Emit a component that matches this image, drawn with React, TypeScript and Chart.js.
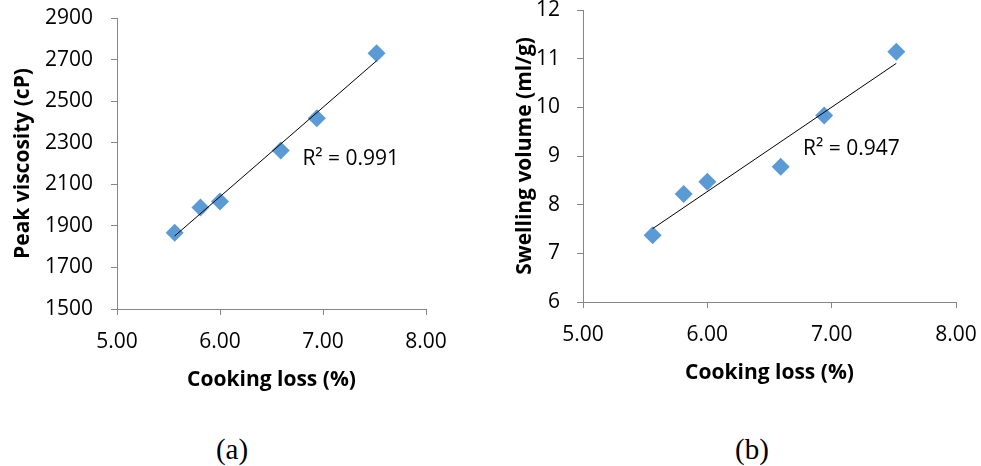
import React, { useEffect, useRef } from "react";
import { Chart, registerables } from "chart.js";

Chart.register(...registerables);

// ---- data ----
const cookingLoss = [5.56, 5.81, 6.0, 6.59, 6.94, 7.52];
const peakViscosity = [1867, 1988, 2017, 2262, 2418, 2731];
const swellingVolume = [7.37, 8.22, 8.47, 8.78, 9.83, 11.14];

const xMin = 5;
const xMax = 8;
const xStep = 1;
const peakMin = 1500;
const peakMax = 2900;
const peakStep = 200;
const swellMin = 6;
const swellMax = 12;
const swellStep = 1;

const xTitle = "Cooking loss (%)";
const peakTitle = "Peak viscosity (cP)";
const swellTitle = "Swelling volume (ml/g)";
const peakR2 = "R² = 0.991";
const swellR2 = "R² = 0.947";
// anchor of R² text in data coordinates [x, y]
const peakR2At = [6.8, 2220];
const swellR2At = [6.77, 9.14];

const FONT = "'Open Sans', 'Liberation Sans', sans-serif";
const AXIS_GREY = "#868686";
const MARKER_BLUE = "#5B9BD5";

function linearFit(xs: number[], ys: number[]) {
  const n = xs.length;
  const mx = xs.reduce((a, b) => a + b, 0) / n;
  const my = ys.reduce((a, b) => a + b, 0) / n;
  let sxy = 0;
  let sxx = 0;
  for (let i = 0; i < n; i++) {
    sxy += (xs[i] - mx) * (ys[i] - my);
    sxx += (xs[i] - mx) * (xs[i] - mx);
  }
  const slope = sxy / sxx;
  return { slope, intercept: my - slope * mx };
}

interface PanelSpec {
  ys: number[];
  yMin: number;
  yMax: number;
  yStep: number;
  yTitle: string;
  r2: string;
  r2At: number[];
  yAxisWidth: number;
  xAxisHeight: number;
  padTop: number;
  padRight: number;
  yTitlePad: number;
  xTitlePad: number;
  yTickPad: number;
  xTickPad: number;
}

function buildConfig(spec: PanelSpec): any {
  const { slope, intercept } = linearFit(cookingLoss, spec.ys);
  const lo = Math.min(...cookingLoss);
  const hi = Math.max(...cookingLoss);
  const trend = [
    { x: lo, y: intercept + slope * lo },
    { x: hi, y: intercept + slope * hi },
  ];
  const points = cookingLoss.map((x, i) => ({ x, y: spec.ys[i] }));

  const r2Plugin = {
    id: "r2label",
    afterDatasetsDraw(chart: any) {
      const ctx = chart.ctx;
      const xs = chart.scales.x;
      const ysc = chart.scales.y;
      ctx.save();
      ctx.font = `21px ${FONT}`;
      ctx.fillStyle = "#000";
      ctx.textAlign = "left";
      ctx.textBaseline = "middle";
      ctx.fillText(
        spec.r2,
        xs.getPixelForValue(spec.r2At[0]),
        ysc.getPixelForValue(spec.r2At[1])
      );
      ctx.restore();
    },
  };

  const grid = {
    display: true,
    drawOnChartArea: false,
    drawTicks: true,
    tickLength: 6,
    color: AXIS_GREY,
    lineWidth: 1,
  };
  const border = { display: true, color: AXIS_GREY, width: 1 };

  return {
    type: "scatter",
    data: {
      datasets: [
        {
          type: "line",
          data: trend,
          borderColor: "#000",
          borderWidth: 1,
          pointRadius: 0,
          fill: false,
          order: 0,
        },
        {
          type: "scatter",
          data: points,
          pointStyle: "rectRot",
          pointRadius: 9,
          backgroundColor: MARKER_BLUE,
          borderColor: MARKER_BLUE,
          borderWidth: 0,
          order: 1,
        },
      ],
    },
    options: {
      responsive: false,
      animation: false,
      devicePixelRatio: 1,
      layout: {
        padding: { left: 0, top: spec.padTop, right: spec.padRight, bottom: 0 },
      },
      plugins: {
        legend: { display: false },
        tooltip: { enabled: false },
      },
      scales: {
        x: {
          type: "linear",
          position: "bottom",
          min: xMin,
          max: xMax,
          grid,
          border,
          ticks: {
            stepSize: xStep,
            padding: spec.xTickPad,
            color: "#000",
            font: { family: FONT, size: 21, lineHeight: 1.2 },
            maxRotation: 0,
            callback: (v: number) => Number(v).toFixed(2),
          },
          title: {
            display: true,
            text: xTitle,
            color: "#000",
            font: { family: FONT, size: 21, weight: "bold", lineHeight: 1.2 },
            padding: { top: 0, bottom: spec.xTitlePad },
          },
          afterFit: (s: any) => {
            s.height = spec.xAxisHeight;
            s.paddingLeft = 0;
            s.paddingRight = 0;
          },
        },
        y: {
          type: "linear",
          position: "left",
          min: spec.yMin,
          max: spec.yMax,
          grid,
          border,
          ticks: {
            stepSize: spec.yStep,
            padding: spec.yTickPad,
            color: "#000",
            font: { family: FONT, size: 21, lineHeight: 1.2 },
            callback: (v: number) => String(v),
          },
          title: {
            display: true,
            text: spec.yTitle,
            color: "#000",
            font: { family: FONT, size: 21, weight: "bold", lineHeight: 1.2 },
            padding: { top: spec.yTitlePad, bottom: 0 },
          },
          afterFit: (s: any) => {
            s.width = spec.yAxisWidth;
            s.paddingTop = 0;
            s.paddingBottom = 0;
          },
        },
      },
    },
    plugins: [r2Plugin],
  };
}

function Panel(props: { spec: PanelSpec; left: number; width: number; height: number }) {
  const ref = useRef<HTMLCanvasElement | null>(null);
  useEffect(() => {
    if (!ref.current) return;
    const chart = new Chart(ref.current, buildConfig(props.spec));
    return () => chart.destroy();
  }, []);
  return (
    <canvas
      ref={ref}
      width={props.width}
      height={props.height}
      style={{
        position: "absolute",
        left: props.left,
        top: 0,
        width: props.width,
        height: props.height,
      }}
    />
  );
}

const panelA: PanelSpec = {
  ys: peakViscosity,
  yMin: peakMin,
  yMax: peakMax,
  yStep: peakStep,
  yTitle: peakTitle,
  r2: peakR2,
  r2At: peakR2At,
  yAxisWidth: 117,
  xAxisHeight: 91,
  padTop: 18,
  padRight: 34,
  yTitlePad: 10,
  xTitlePad: 7,
  yTickPad: 18,
  xTickPad: 14,
};

const panelB: PanelSpec = {
  ys: swellingVolume,
  yMin: swellMin,
  yMax: swellMax,
  yStep: swellStep,
  yTitle: swellTitle,
  r2: swellR2,
  r2At: swellR2At,
  yAxisWidth: 103,
  xAxisHeight: 98,
  padTop: 10,
  padRight: 25,
  yTitlePad: 32,
  xTitlePad: 14,
  yTickPad: 17,
  xTickPad: 14,
};

const captionStyle: React.CSSProperties = {
  position: "absolute",
  top: 432,
  width: 80,
  textAlign: "center",
  fontFamily: "'Liberation Serif', 'Times New Roman', serif",
  fontSize: 29,
  lineHeight: "34px",
  color: "#000",
};

export default function App() {
  return (
    <div
      style={{
        position: "absolute",
        left: 0,
        top: 0,
        width: 981,
        height: 466,
        background: "#fff",
        overflow: "hidden",
      }}
    >
      <Panel spec={panelA} left={0} width={460} height={400} />
      <Panel spec={panelB} left={480} width={501} height={400} />
      <div style={{ ...captionStyle, left: 232 - 40 }}>(a)</div>
      <div style={{ ...captionStyle, left: 752 - 40 }}>(b)</div>
    </div>
  );
}
